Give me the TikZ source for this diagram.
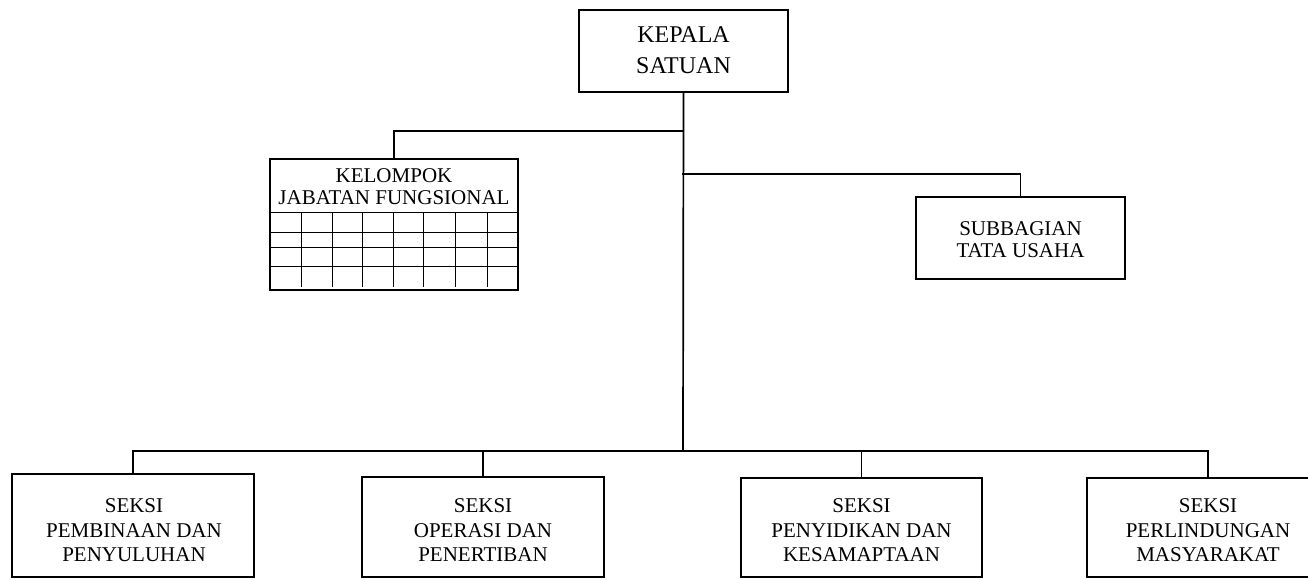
\documentclass[tikz,border=0pt]{standalone}
\usepackage{fontspec}
\setmainfont{Liberation Serif}
\begin{document}
\begin{tikzpicture}[x=1pt,y=-1pt,
  unit/.style={draw=black,line width=1.2pt,rectangle,inner sep=0pt},
  lbl/.style={align=center,inner sep=0pt,text=black},
  big/.style={font=\fontsize{24}{31}\selectfont},
  norm/.style={font=\fontsize{21}{24.5}\selectfont},
  tight/.style={font=\fontsize{21}{22.5}\selectfont},
  link/.style={line width=1.7pt,line cap=rect},
  cell/.style={line width=0.9pt}]
\clip (0,0) rectangle (1308,579);
\fill[white] (0,0) rectangle (1308,579);

% head of the unit
\node[unit,minimum width=209pt,minimum height=82pt] (kepala) at (683.5,51) {};
\node[lbl,big] (kepalaT) at (683.5,50.5) {KEPALA\\SATUAN};

% functional group with its table
\node[unit,minimum width=248pt,minimum height=131pt] (jab) at (394,224.5) {};
\node[lbl,tight] (jabT) at (394,186.5) {KELOMPOK\\JABATAN FUNGSIONAL};
\draw[cell] (270,212) -- (518,212);
\foreach \yy in {232,247,266} \draw[cell] (270,\yy) -- (518,\yy);
\foreach \xx in {301,332,362,393,423,455,487} \draw[cell] (\xx,212) -- (\xx,287);

% administration subdivision
\node[unit,minimum width=209pt,minimum height=82pt] (sub) at (1020.5,238) {};
\node[lbl,tight] (subT) at (1020.5,239.5) {SUBBAGIAN\\TATA USAHA};

% sections
\node[unit,minimum width=242pt,minimum height=103pt] (s1) at (133,525.5) {};
\node[lbl,norm] (s1T) at (134,530.5) {SEKSI\\PEMBINAAN DAN\\PENYULUHAN};
\node[unit,minimum width=242pt,minimum height=100pt] (s2) at (483,527) {};
\node[lbl,norm] (s2T) at (483,530.5) {SEKSI\\OPERASI DAN\\PENERTIBAN};
\node[unit,minimum width=241pt,minimum height=99pt] (s3) at (861.5,527.5) {};
\node[lbl,norm] (s3T) at (861.5,530.5) {SEKSI\\PENYIDIKAN DAN\\KESAMAPTAAN};
\node[unit,minimum width=242pt,minimum height=99pt] (s4) at (1208,527.5) {};
\node[lbl,norm] (s4T) at (1208,530.5) {SEKSI\\PERLINDUNGAN\\MASYARAKAT};

% junctions on the main line
\coordinate (j1) at (683,131);
\coordinate (j2) at (683,174);
\coordinate (j3) at (683,451);

% connectors
\draw[link] (kepala.south) -- (j3);
\draw[link] (j1) -| (jab.north);
\draw[link] (j2) -| (sub.north);
\draw[link] (s1.north) -- (s1.north |- j3) -- (s4.north |- j3) -- (s4.north);
\draw[link] (s2.north) -- (s2.north |- j3);
\draw[link] (s3.north) -- (s3.north |- j3);
\end{tikzpicture}
\end{document}
